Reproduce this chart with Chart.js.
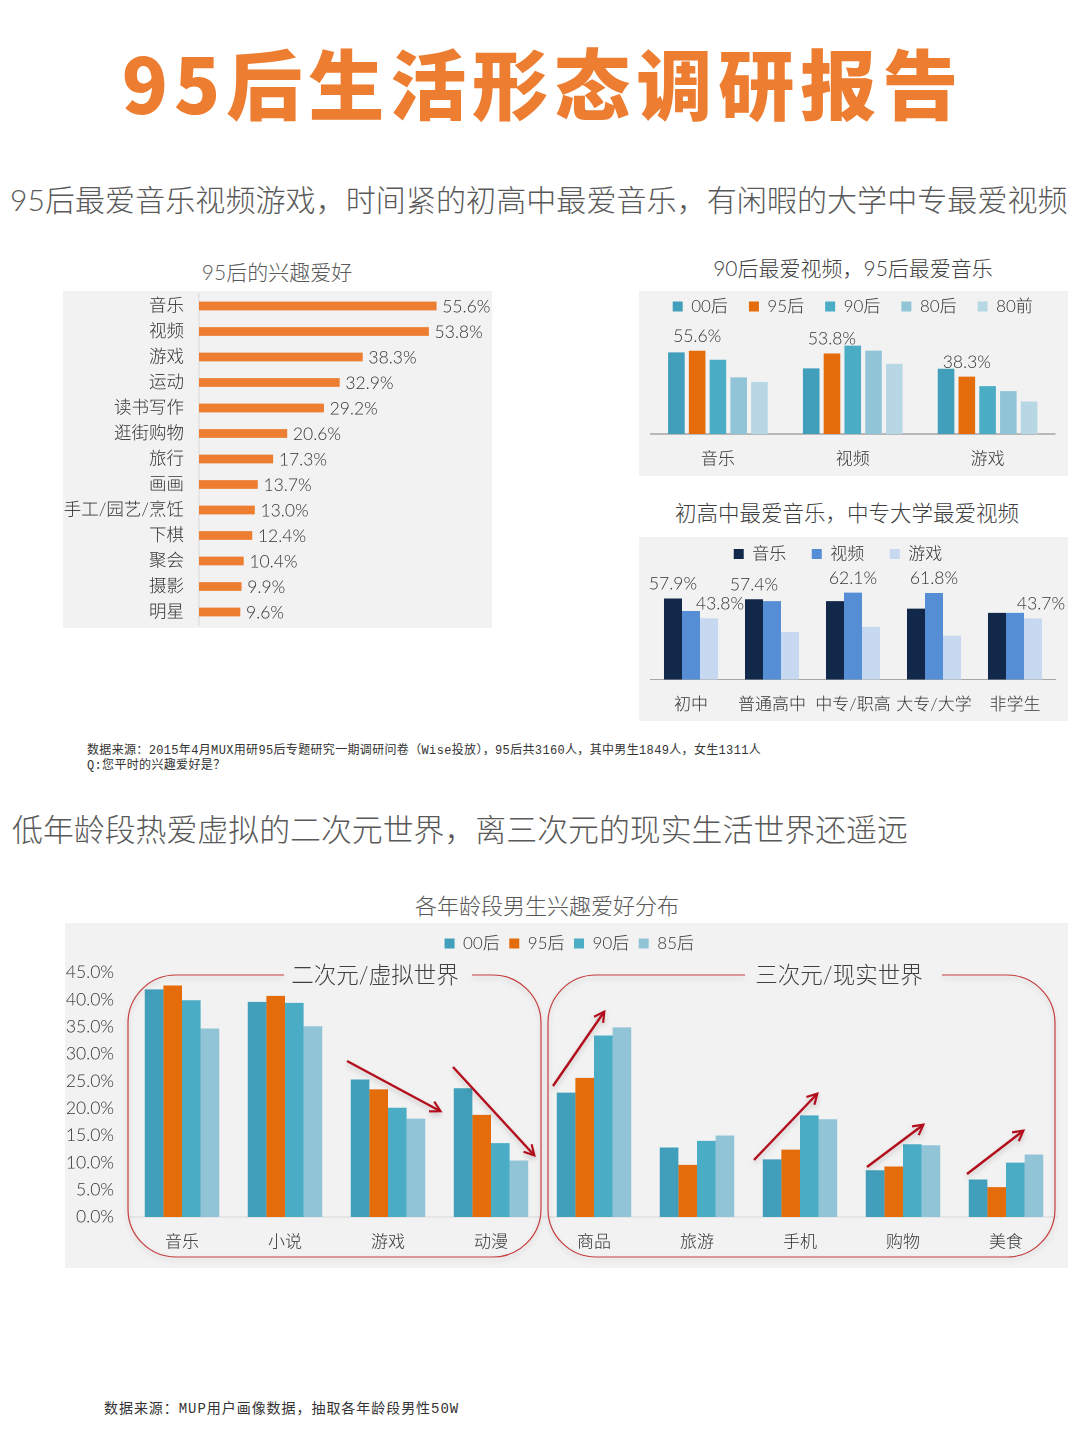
<!DOCTYPE html>
<html>
<head>
<meta charset="utf-8">
<script src="https://cdn.jsdelivr.net/npm/chart.js@4"></script>
<style>
body { margin:0; background:#fff; font-family:Lato,"Noto Sans CJK SC",sans-serif; font-weight:300; color:#404040; }
#page { position:relative; width:1080px; height:1440px; overflow:hidden; }
.t { position:absolute; white-space:nowrap; line-height:1; transform:translateY(-50%); }
.c { transform:translate(-50%,-50%); }
.note { font-family:"Liberation Mono","Noto Sans CJK SC",monospace; font-weight:400; color:#333; font-size:12px; letter-spacing:.34px; }
.panel { position:absolute; background:#f2f2f2; }
.panel canvas { position:absolute; left:0; top:0; }
#overlay { position:absolute; left:0; top:0; }
</style>
</head>
<body>
<div id="page">
  <div class="t c" style="left:543px;top:81px;font-size:76px;font-weight:900;color:#ed7d31;letter-spacing:6px;font-family:'Noto Sans CJK SC'">95后生活形态调研报告</div>
  <div class="t" style="left:10px;top:199px;font-size:30px;letter-spacing:.08px;color:#595959">95后最爱音乐视频游戏，时间紧的初高中最爱音乐，有闲暇的大学中专最爱视频</div>
  <div class="t c" style="left:277px;top:271px;font-size:21px;color:#595959">95后的兴趣爱好</div>
  <div class="t c" style="left:853px;top:267px;font-size:21px">90后最爱视频，95后最爱音乐</div>
  <div class="t c" style="left:847px;top:514px;font-size:21.5px">初高中最爱音乐，中专大学最爱视频</div>
  <div class="t note" style="left:87px;top:751px">数据来源：2015年4月MUX用研95后专题研究一期调研问卷（Wise投放），95后共3160人，其中男生1849人，女生1311人</div>
  <div class="t note" style="left:87px;top:766px">Q:您平时的兴趣爱好是？</div>
  <div class="t" style="left:12px;top:830px;font-size:30.9px;color:#595959">低年龄段热爱虚拟的二次元世界，离三次元的现实生活世界还遥远</div>
  <div class="t c" style="left:547px;top:906px;font-size:22px;color:#595959">各年龄段男生兴趣爱好分布</div>
  <div class="t note" style="left:104px;top:1409px;font-size:14px;letter-spacing:.95px">数据来源：MUP用户画像数据，抽取各年龄段男性50W</div>

  <div class="panel" style="left:63px;top:291px;width:429px;height:337px"><canvas id="interestChart" width="429" height="337" style="width:429px;height:337px"></canvas></div>
  <div class="panel" style="left:639px;top:291px;width:429px;height:185px"><canvas id="generationChart" width="429" height="185" style="width:429px;height:185px"></canvas></div>
  <div class="panel" style="left:639px;top:537px;width:429px;height:184px"><canvas id="schoolChart" width="429" height="184" style="width:429px;height:184px"></canvas></div>
  <div class="panel" style="left:65px;top:923px;width:1003px;height:345px"><canvas id="maleChart" width="1003" height="345" style="width:1003px;height:345px"></canvas></div>

  <svg id="overlay" width="1080" height="1440">
    <defs>
      <marker id="head" markerWidth="8" markerHeight="8" refX="6.5" refY="4" orient="auto" markerUnits="userSpaceOnUse" viewBox="0 0 8 8" style="overflow:visible">
        <path d="M-3 -1.5 L7 4 L-3 9.5" fill="none" stroke="#b2101c" stroke-width="2.2"/>
      </marker>
      <filter id="soft" x="-5%" y="-5%" width="110%" height="115%"><feDropShadow dx="0" dy="3" stdDeviation="2.5" flood-color="#000" flood-opacity=".18"/></filter>
    </defs>
    <g fill="none" stroke="#c43c3c" stroke-width="1.2" filter="url(#soft)">
      <path d="M284 975 H176 A48 48 0 0 0 128 1023 V1209 A48 48 0 0 0 176 1257 H493 A48 48 0 0 0 541 1209 V1023 A48 48 0 0 0 493 975 H472"/>
      <path d="M745 975 H596 A48 48 0 0 0 548 1023 V1209 A48 48 0 0 0 596 1257 H1007 A48 48 0 0 0 1055 1209 V1023 A48 48 0 0 0 1007 975 H942"/>
    </g>
    <g stroke="#b2101c" stroke-width="2.4" marker-end="url(#head)" filter="url(#soft)">
      <line x1="347" y1="1061" x2="440" y2="1111"/>
      <line x1="453" y1="1067" x2="534" y2="1155"/>
      <line x1="553" y1="1086" x2="604" y2="1012"/>
      <line x1="754" y1="1160" x2="817" y2="1094"/>
      <line x1="867" y1="1167" x2="923" y2="1125"/>
      <line x1="967" y1="1174" x2="1023" y2="1131"/>
    </g>
  </svg>
  <div class="t c" style="left:375px;top:975px;font-size:22.5px">二次元/虚拟世界</div>
  <div class="t c" style="left:839px;top:975px;font-size:22.5px">三次元/现实世界</div>
</div>

<script>
// chart 1
const interestLabels = ["音乐","视频","游戏","运动","读书写作","逛街购物","旅行","画画","手工/园艺/烹饪","下棋","聚会","摄影","明星"];
const interestValues = [55.6,53.8,38.3,32.9,29.2,20.6,17.3,13.7,13.0,12.4,10.4,9.9,9.6];

// chart 2
const generationLabels = ["音乐","视频","游戏"];
const gen00 = [54.5,43.8,43.6];
const gen95 = [55.6,53.8,38.3];
const gen90 = [49.6,59.0,32.0];
const gen80 = [37.8,55.7,28.6];
const genBefore80 = [34.7,46.8,21.7];

// chart 3
const schoolLabels = ["初中","普通高中","中专/职高","大专/大学","非学生"];
const schoolMusic = [57.9,57.4,56.0,50.7,47.6];
const schoolVideo = [49.0,56.0,62.1,61.8,47.6];
const schoolGame = [43.8,34.0,37.6,31.3,43.7];

// chart 4
const maleLabels = ["音乐","小说","游戏","动漫","商品","旅游","手机","购物","美食"];
const male00 = [41.9,39.6,25.3,23.7,22.9,12.8,10.6,8.6,6.9];
const male95 = [42.6,40.7,23.5,18.8,25.6,9.6,12.4,9.3,5.5];
const male90 = [39.9,39.4,20.1,13.6,33.4,14.0,18.7,13.4,10.0];
const male85 = [34.7,35.1,18.1,10.4,34.9,15.0,18.0,13.2,11.5];

const textColor = "#333333";
Chart.defaults.font.family = 'Lato,"Noto Sans CJK SC",sans-serif';
Chart.defaults.font.weight = 300;
Chart.defaults.color = textColor;
Chart.defaults.animation = false;
Chart.defaults.responsive = false;
Chart.defaults.devicePixelRatio = 2;

// draws "55.6%" next to the bars listed in options.pctLabels
const pctLabels = {
    id: "pctLabels",
    afterDatasetsDraw(chart, args, opts) {
        const ctx = chart.ctx;
        ctx.save();
        ctx.font = '300 ' + opts.size + 'px Lato,"Noto Sans CJK SC",sans-serif';
        ctx.fillStyle = textColor;
        opts.items.forEach(function(item){
            const bar = chart.getDatasetMeta(item[0]).data[item[1]];
            const value = chart.data.datasets[item[0]].data[item[1]];
            const text = value.toFixed(1) + "%";
            if (chart.options.indexAxis === "y") {
                ctx.textAlign = "left";
                ctx.textBaseline = "middle";
                ctx.fillText(text, bar.x + 6, bar.y + 1);
            } else {
                ctx.textAlign = "center";
                ctx.textBaseline = "middle";
                ctx.fillText(text, bar.x + (item[2] || 0), bar.y - 14.5);
            }
        });
        ctx.restore();
    }
};

// moves the built-in legend without touching the chart area
const nudgeLegend = {
    id: "nudgeLegend",
    afterLayout(chart, args, opts) {
        const legend = chart.legend;
        legend.left += opts.dx || 0;
        legend.right += opts.dx || 0;
        legend.top += opts.dy || 0;
        legend.bottom += opts.dy || 0;
    }
};

function legendOpts(gap){
    return {
        position: "top",
        labels: { boxWidth: 10, boxHeight: 10, padding: gap, font: { size: 17, weight: 300 }, color: textColor }
    };
}

new Chart("interestChart", {
    type: "bar",
    plugins: [pctLabels],
    data: {
        labels: interestLabels,
        datasets: [{ data: interestValues, backgroundColor: "#ed7d31", barThickness: 8 }]
    },
    options: {
        indexAxis: "y",
        layout: { padding: { top: 2.25, bottom: 3.25, right: 37 } },
        plugins: {
            legend: { display: false },
            tooltip: { enabled: false },
            pctLabels: { size: 17.5, items: interestValues.map((v, i) => [0, i]) }
        },
        scales: {
            x: { display: false, min: 0, max: 60 },
            y: {
                afterFit(s){ s.width = 136; s.paddingTop = 0; s.paddingBottom = 0; },
                grid: { display: false, drawTicks: false },
                border: { color: "#d9d9d9" },
                ticks: { padding: 15, font: { size: 17.5 }, autoSkip: false }
            }
        }
    }
});

new Chart("generationChart", {
    type: "bar",
    plugins: [pctLabels],
    data: {
        labels: generationLabels,
        datasets: [
            { label: "00后", data: gen00, backgroundColor: "#429fbb" },
            { label: "95后", data: gen95, backgroundColor: "#e46c0a" },
            { label: "90后", data: gen90, backgroundColor: "#4bacc6" },
            { label: "80后", data: gen80, backgroundColor: "#92c4d8" },
            { label: "80前", data: genBefore80, backgroundColor: "#b7d7e5" }
        ]
    },
    options: {
        layout: { padding: { left: 11.5, right: 13, top: -14 } },
        datasets: { bar: { categoryPercentage: 0.77, barPercentage: 0.8 } },
        plugins: {
            legend: legendOpts(21),
            tooltip: { enabled: false },
            pctLabels: { size: 17.5, items: [[1,0],[1,1],[1,2]] }
        },
        scales: {
            x: {
                afterFit(s){ s.height = 42; },
                grid: { display: false, drawTicks: false },
                border: { color: "#7f7f7f" },
                ticks: { padding: 15, font: { size: 17 } }
            },
            y: { display: false, min: 0, max: 72.8 }
        }
    }
});

new Chart("schoolChart", {
    type: "bar",
    plugins: [pctLabels, nudgeLegend],
    data: {
        labels: schoolLabels,
        datasets: [
            { label: "音乐", data: schoolMusic, backgroundColor: "#12284a" },
            { label: "视频", data: schoolVideo, backgroundColor: "#558ed5" },
            { label: "游戏", data: schoolGame, backgroundColor: "#c6d9f1" }
        ]
    },
    options: {
        layout: { padding: { left: 11.5, right: 12.5, top: -17 } },
        datasets: { bar: { categoryPercentage: 0.667, barPercentage: 1 } },
        plugins: {
            legend: legendOpts(25.5),
            tooltip: { enabled: false },
            nudgeLegend: { dx: -15 },
            pctLabels: { size: 17.5, items: [[0,0],[2,0,11],[0,1],[1,2],[1,3],[2,4,8]] }
        },
        scales: {
            x: {
                afterFit(s){ s.height = 41.5; },
                grid: { display: false, drawTicks: false },
                border: { color: "#a6a6a6" },
                ticks: { padding: 15, font: { size: 17 }, autoSkip: false, maxRotation: 0 }
            },
            y: { display: false, min: 0, max: 76.5 }
        }
    }
});

new Chart("maleChart", {
    type: "bar",
    plugins: [nudgeLegend],
    data: {
        labels: maleLabels,
        datasets: [
            { label: "00后", data: male00, backgroundColor: "#429fbb" },
            { label: "95后", data: male95, backgroundColor: "#e46c0a" },
            { label: "90后", data: male90, backgroundColor: "#4bacc6" },
            { label: "85后", data: male85, backgroundColor: "#92c4d8" }
        ]
    },
    options: {
        layout: { padding: { right: 10.5, top: 13 } },
        datasets: { bar: { categoryPercentage: 0.723, barPercentage: 1 } },
        plugins: {
            legend: legendOpts(9.5),
            tooltip: { enabled: false },
            nudgeLegend: { dx: 8, dy: -10.5 }
        },
        scales: {
            x: {
                afterFit(s){ s.height = 51; },
                grid: { display: false, drawTicks: false },
                border: { color: "#d9d9d9" },
                ticks: { padding: 15, font: { size: 17 }, autoSkip: false, maxRotation: 0 }
            },
            y: {
                min: 0, max: 45,
                afterFit(s){ s.width = 65.5; },
                grid: { display: false, drawTicks: false },
                border: { display: false },
                ticks: { stepSize: 5, padding: 16.5, font: { size: 17.5 }, callback: v => v.toFixed(1) + "%" }
            }
        }
    }
});
</script>
</body>
</html>
